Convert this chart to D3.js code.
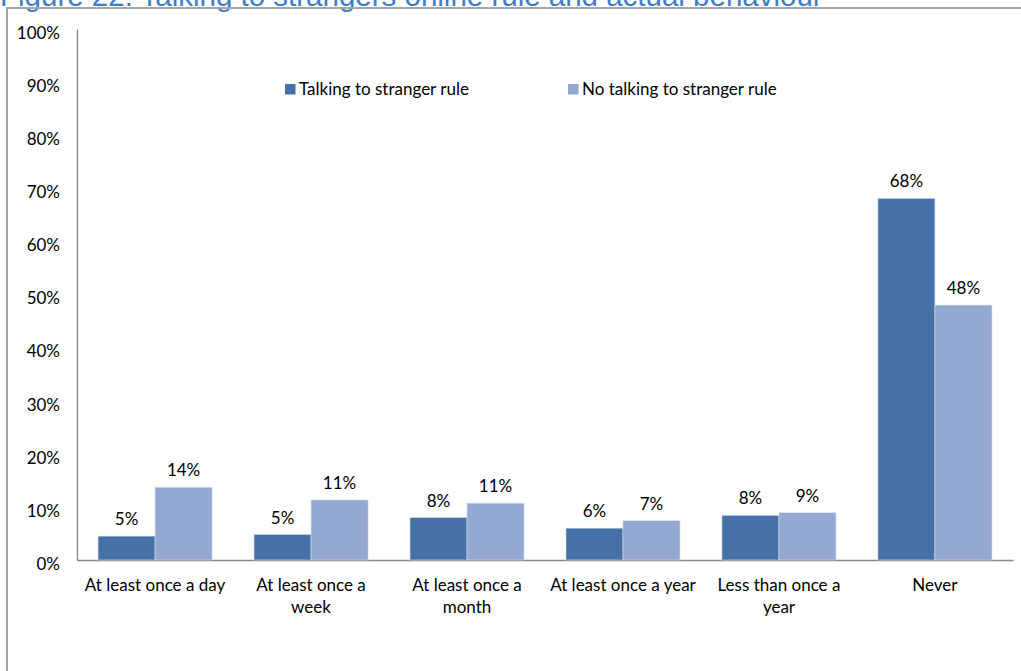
<!DOCTYPE html>
<html><head><meta charset="utf-8">
<script src="https://cdn.jsdelivr.net/npm/d3@7/dist/d3.min.js"></script>
<style>body{margin:0;background:#fff;}svg{display:block;}</style>
</head><body>
<script>
const categories = ["At least once a day","At least once a week","At least once a month","At least once a year","Less than once a year","Never"];
const seriesNames = ["Talking to stranger rule","No talking to stranger rule"];
const ruleValues = [4.5,4.8,8.0,6.0,8.4,68.1];
const noRuleValues = [13.7,11.3,10.7,7.4,8.9,48.0];
const ruleLabels = ["5%","5%","8%","6%","8%","68%"];
const noRuleLabels = ["14%","11%","11%","7%","9%","48%"];
const yTicks = [0,10,20,30,40,50,60,70,80,90,100];
const colors = ["#4671A7","#94A9D1"];

const W=1021,H=671;
const svg=d3.select("body").append("svg").attr("width",W).attr("height",H);
const font="Lato, 'Open Sans', sans-serif";
const fs=17;

// title (partially cut at top, as in the reference)
svg.append("text").attr("x",0).attr("y",6).attr("font-family","'Liberation Sans', Arial, sans-serif")
  .attr("font-size",29.5).attr("fill","#3F7DC8").text("Figure 22: Talking to strangers online rule and actual behaviour");

// frame
svg.append("rect").attr("x",7).attr("y",8).attr("width",W+10).attr("height",H+10)
  .attr("fill","none").attr("stroke","#a6a6a6").attr("stroke-width",2);

const x0=d3.scaleBand().domain(categories).range([77,1013]).paddingInner(0.269).paddingOuter(0.135);
const x1=d3.scaleBand().domain([0,1]).range([0,x0.bandwidth()]);
const y=d3.scaleLinear().domain([0,100]).range([560,29]);

// y axis
const ya=svg.append("g").attr("transform","translate(77,0)").call(d3.axisLeft(y).tickValues(yTicks).tickSize(0).tickPadding(17).tickFormat(d=>d+"%"));
ya.select(".domain").attr("stroke","#868686").attr("stroke-width",1.3);
ya.selectAll("text").attr("font-family",font).attr("font-size",fs).attr("fill","#000").attr("dy","0.55em");

// x axis
const xa=svg.append("g").attr("transform","translate(0,560)").call(d3.axisBottom(x0).tickSize(0).tickSizeOuter(0).tickFormat(""));
xa.select(".domain").attr("stroke","#868686").attr("stroke-width",1.3);

// bars
const data=categories.map((c,i)=>({c,vals:[ruleValues[i],noRuleValues[i]],labs:[ruleLabels[i],noRuleLabels[i]]}));
const g=svg.append("g");
const grp=g.selectAll("g").data(data).join("g").attr("transform",d=>`translate(${x0(d.c)},0)`);
grp.selectAll("rect").data(d=>d.vals.map((v,k)=>({v,k}))).join("rect")
  .attr("x",d=>x1(d.k)).attr("width",x1.bandwidth()).attr("y",d=>y(d.v)).attr("height",d=>y(0)-y(d.v))
  .attr("fill",d=>colors[d.k]).attr("stroke","#d4dcec").attr("stroke-width",0.6);
grp.selectAll("text.lab").data(d=>d.vals.map((v,k)=>({v,k,l:d.labs[k]}))).join("text").attr("class","lab")
  .attr("x",d=>x1(d.k)+x1.bandwidth()/2).attr("y",d=>y(d.v)-11).attr("text-anchor","middle")
  .attr("font-family",font).attr("font-size",fs).attr("fill","#000").text(d=>d.l);

// category labels (wrapped)
const wrapMap={"At least once a week":["At least once a","week"],"At least once a month":["At least once a","month"],"Less than once a year":["Less than once a","year"]};
categories.forEach(c=>{
  const lines=wrapMap[c]||[c];
  const t=svg.append("text").attr("x",x0(c)+x0.bandwidth()/2).attr("y",591).attr("text-anchor","middle")
    .attr("font-family",font).attr("font-size",fs).attr("fill","#000");
  lines.forEach((ln,i)=>t.append("tspan").attr("x",x0(c)+x0.bandwidth()/2).attr("dy",i?22:0).text(ln));
});

// legend
const leg=[{x:285,t:seriesNames[0],c:colors[0]},{x:568,t:seriesNames[1],c:colors[1]}];
leg.forEach(l=>{
  svg.append("rect").attr("x",l.x).attr("y",84).attr("width",10.5).attr("height",10.5).attr("fill",l.c);
  svg.append("text").attr("x",l.x+14).attr("y",95).attr("font-family",font).attr("font-size",fs).attr("fill","#000").text(l.t);
});
</script>
</body></html>
